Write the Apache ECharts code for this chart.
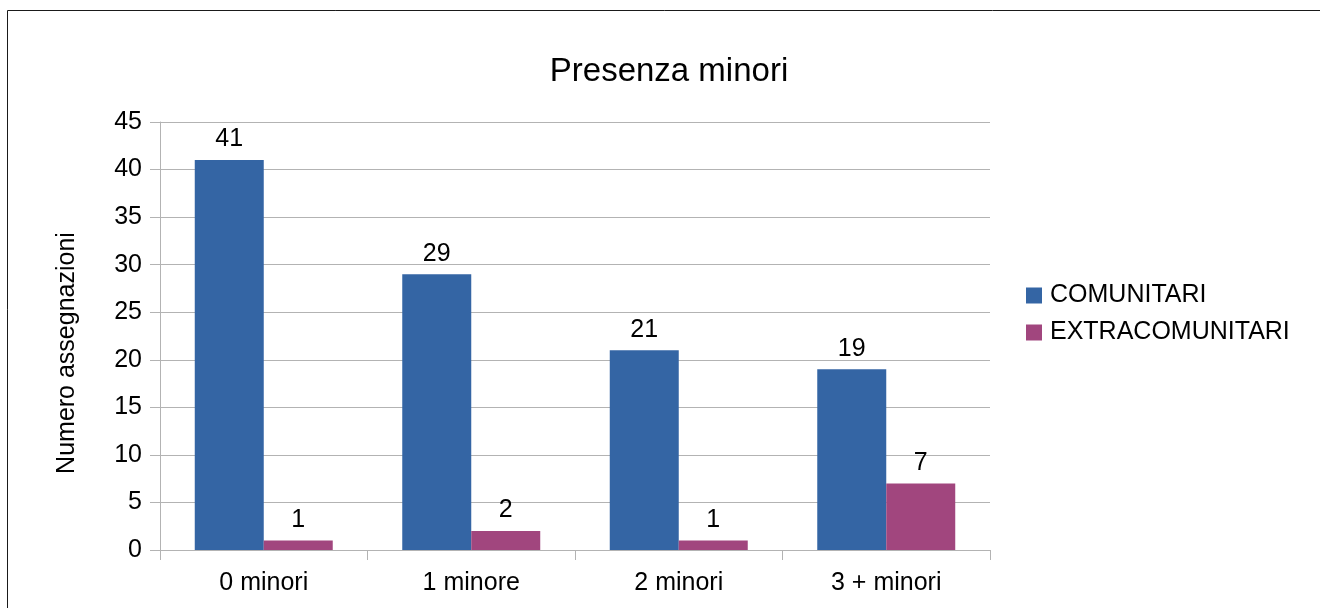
<!DOCTYPE html>
<html>
<head>
<meta charset="utf-8">
<script src="https://cdn.jsdelivr.net/npm/echarts@6/dist/echarts.min.js"></script>
<style>
	html, body { margin: 0; padding: 0; background: #fff; }
	#chart { width: 1320px; height: 608px; }
</style>
</head>
<body>
<div id="chart"></div>
<script>
const categories = ['0 minori', '1 minore', '2 minori', '3 + minori'];
const comunitari = [41, 29, 21, 19];
const extracomunitari = [1, 2, 1, 7];
const seriesNames = ['COMUNITARI', 'EXTRACOMUNITARI'];

var presenzaChart = echarts.init(document.getElementById('chart'));

const font = 'Liberation Sans, Arial, sans-serif';

var option = {
	textStyle: { fontFamily: font },
	// outer frame of the chart area
	graphic: [
		{
			type: 'rect',
			shape: { x: 7.5, y: 10.5, width: 1330, height: 620 },
			style: { fill: 'none', stroke: '#1a1a1a', lineWidth: 1 },
			silent: true
		}
	],
	title: {
		text: 'Presenza minori',
		left: 664,
		top: 50,
		textAlign: 'center',
		textStyle: { fontSize: 33, fontWeight: 'normal', color: '#000', fontFamily: font }
	},
	legend: {
		orient: 'vertical',
		left: 1026,
		top: 283,
		padding: 0,
		itemWidth: 16,
		itemHeight: 16,
		itemGap: 12,
		icon: 'rect',
		textStyle: { fontSize: 25, color: '#000', fontFamily: font, padding: [0, 0, 0, 3] }
	},
	grid: {
		left: 160,
		right: 330,
		top: 122,
		bottom: 58
	},
	xAxis: {
		type: 'category',
		data: categories,
		axisLine: { lineStyle: { color: '#b3b3b3' } },
		axisTick: { show: true, length: 10, lineStyle: { color: '#b3b3b3' } },
		axisLabel: { fontSize: 25, color: '#000', margin: 21 }
	},
	yAxis: {
		type: 'value',
		min: 0,
		max: 45,
		interval: 5,
		name: 'Numero assegnazioni',
		nameLocation: 'middle',
		nameGap: 80,
		// shifted a bit below the plot centre, as in the original
		nameTextStyle: { fontSize: 25, color: '#000', padding: [0, 34, 0, 0] },
		axisLine: { show: true, lineStyle: { color: '#b3b3b3' } },
		axisTick: { show: true, length: 10, lineStyle: { color: '#b3b3b3' } },
		axisLabel: { fontSize: 25, color: '#000', margin: 18 },
		splitLine: { lineStyle: { color: '#b3b3b3' } }
	},
	series: [
		{
			name: seriesNames[0],
			type: 'bar',
			data: comunitari,
			barGap: '0%',
			barCategoryGap: '33.5%',
			itemStyle: { color: '#3465a4' },
			label: { show: true, position: 'top', distance: 8, fontSize: 25, color: '#000' }
		},
		{
			name: seriesNames[1],
			type: 'bar',
			data: extracomunitari,
			barGap: '0%',
			barCategoryGap: '33.5%',
			itemStyle: { color: '#a1467e' },
			label: { show: true, position: 'top', distance: 8, fontSize: 25, color: '#000' }
		}
	]
};

presenzaChart.setOption(option);
</script>
</body>
</html>
